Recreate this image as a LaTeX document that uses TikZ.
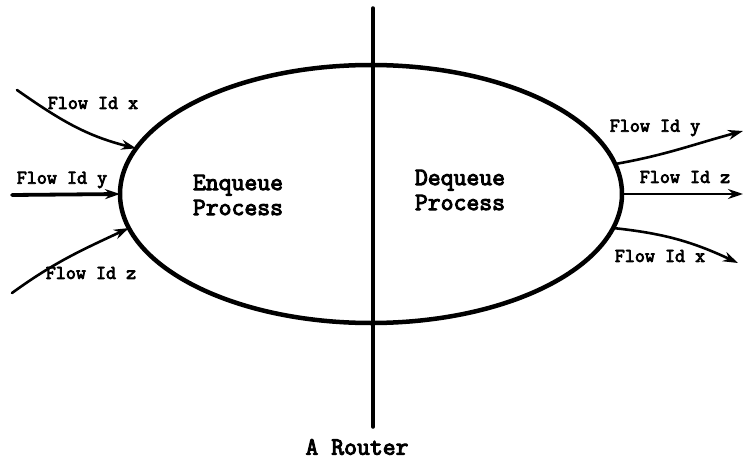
\documentclass[tikz,border=0pt]{standalone}
\usepackage{fontspec}
\setmonofont{Latin Modern Mono}[AutoFakeBold=4]
\usetikzlibrary{arrows.meta,shapes.geometric}

\begin{document}
\begin{tikzpicture}[x=1pt, y=1pt, line join=round, line cap=round,
	flow/.style={-{Stealth[length=15pt,width=10pt]}, line width=2.6pt},
	flowlabel/.style={font=\ttfamily\bfseries\fontsize{19.5}{22}\selectfont, inner sep=0pt},
	proclabel/.style={font=\ttfamily\bfseries\fontsize{25}{25}\selectfont, align=center, inner sep=0pt}]
	\useasboundingbox (0,0) rectangle (745,459);
	% Router (ellipse) and the dividing line
	\node[ellipse, draw, line width=4.5pt, minimum width=502pt, minimum height=258pt, inner sep=0pt, outer sep=0pt] (router) at (371,265) {};
	\path (373,451) coordinate (top)
	(373,32) coordinate (bot);
	\draw[line width=3.5pt] (top) -- (bot);
	% Free ends of the incoming and outgoing flows
	\path (17,369) coordinate (inx)
	(12,264) coordinate (iny)
	(12,166) coordinate (inz)
	(743,328) coordinate (outy)
	(743,265) coordinate (outz)
	(738,196) coordinate (outx);
	% Incoming flows
	\draw[flow] (inx) to[out=-35, in=166] (router.169);
	\draw[flow, line width=3.8pt] (iny) -- (router.west);
	\draw[flow] (inz) to[out=36, in=-155] (router.188);
	% Outgoing flows
	\draw[flow] (router.7) to[out=10, in=-165] (outy);
	\draw[flow] (router.east) -- (outz);
	\draw[flow] (router.-8) to[out=-6, in=155] (outx);
	% Flow labels
	\node[flowlabel] (lx) at (93,356) {Flow Id x};
	\node[flowlabel] (ly) at (62,279) {Flow Id y};
	\node[flowlabel] (lz) at (91,186) {Flow Id z};
	\node[flowlabel] (ry) at (655,331) {Flow Id y};
	\node[flowlabel] (rz) at (685,282) {Flow Id z};
	\node[flowlabel] (rx) at (660,203) {Flow Id x};
	% Process labels
	\node[proclabel] (enq) at (238,264) {Enqueue\\Process};
	\node[proclabel] (deq) at (460,269) {Dequeue\\Process};
	\node[proclabel] (name) at (357,12) {A Router};
\end{tikzpicture}
\end{document}
